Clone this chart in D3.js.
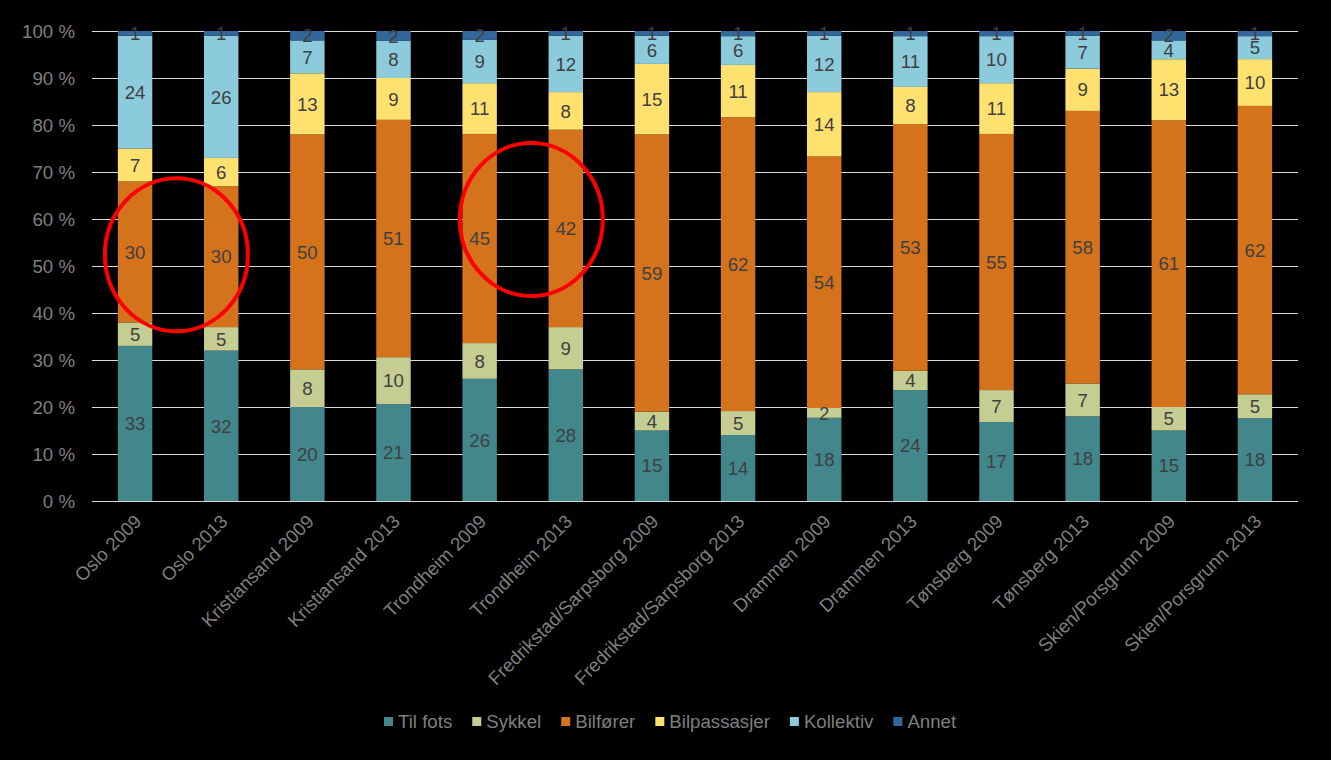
<!DOCTYPE html>
<html><head><meta charset="utf-8">
<script src="https://cdn.jsdelivr.net/npm/d3@7/dist/d3.min.js"></script>
<style>body{margin:0;background:#000}svg{display:block}text{font-family:"Liberation Sans",Arial,sans-serif}</style>
</head><body><svg id="c" width="1331" height="760"></svg>
<script>
const categories = ["Oslo 2009","Oslo 2013","Kristiansand 2009","Kristiansand 2013","Trondheim 2009","Trondheim 2013","Fredrikstad/Sarpsborg 2009","Fredrikstad/Sarpsborg 2013","Drammen 2009","Drammen 2013","Tønsberg 2009","Tønsberg 2013","Skien/Porsgrunn 2009","Skien/Porsgrunn 2013"];
const seriesNames = ["Til fots","Sykkel","Bilfører","Bilpassasjer","Kollektiv","Annet"];
const tilFots     = [33.0,32.0,20.0,20.6,26.0,28.0,15.0,14.0,17.7,23.6,16.8,18.0,15.0,17.7];
const sykkel      = [5.0, 5.0, 8.0, 10.0,7.6, 9.0, 4.0, 5.1, 2.1, 4.1, 6.8, 7.0, 5.0, 5.1];
const bilforer    = [30.0,30.0,50.0,50.5,44.5,42.0,59.0,62.4,53.5,52.5,54.5,58.0,61.0,61.6];
const bilpassasjer= [7.0, 6.0, 13.0,8.9, 10.8,8.0, 15.0,11.1,13.7,7.9, 10.8,9.0, 13.0,10.0];
const kollektiv   = [24.0,26.0,7.0, 7.9, 9.2, 12.0,6.0, 6.1, 12.0,10.8,10.0,7.0, 4.0, 4.9];
const annet       = [1.0, 1.0, 2.0, 2.1, 1.9, 1.0, 1.0, 1.1, 1.0, 1.1, 1.1, 1.0, 2.0, 1.1];
const yTicks = [0,10,20,30,40,50,60,70,80,90,100];
const colors = ["#41878c","#c5cd93","#d4731c","#ffe170","#8ccbdc","#336699"];
// annotation ellipses: center at fractional category index and % value
const ellipseCatPos = [0.48, 4.6];
const ellipseCenterPct = [52.4, 59.9];

const seriesVals = [tilFots,sykkel,bilforer,bilpassasjer,kollektiv,annet];
const rows = categories.map((c,i)=>{const r={cat:c}; seriesNames.forEach((s,j)=>r[s]=seriesVals[j][i]); return r;});
const stacked = d3.stack().keys(seriesNames).offset(d3.stackOffsetExpand)(rows);

const FS = "18.67px";
const svg = d3.select("#c");
const m = {l:92, r:1298, t:31, b:501};
const x = d3.scaleBand().domain(categories).range([m.l,m.r]).paddingInner(0.6).paddingOuter(0.3);
const y = d3.scaleLinear().domain([0,1]).range([m.b,m.t]);
const cxAt = f => x(categories[0]) + x.bandwidth()/2 + f*x.step();

svg.append("rect").attr("width",1331).attr("height",760).attr("fill","#000");

// gridlines
svg.append("g").selectAll("line").data(yTicks).join("line")
  .attr("x1",m.l).attr("x2",m.r).attr("y1",d=>Math.round(y(d/100))+0.5).attr("y2",d=>Math.round(y(d/100))+0.5)
  .attr("stroke","#d9d9d9").attr("stroke-width",1);

// y labels
svg.append("g").selectAll("text").data(yTicks).join("text")
  .attr("x",75).attr("y",d=>y(d/100)).attr("dy","0.35em").attr("text-anchor","end")
  .attr("fill","#7f7f7f").style("font-size",FS).text(d=>d+" %");

// bars
const g = svg.append("g");
stacked.forEach((s,j)=>{
  g.append("g").selectAll("rect").data(s).join("rect")
    .attr("x",d=>x(d.data.cat)).attr("width",x.bandwidth())
    .attr("y",d=>y(d[1])).attr("height",d=>y(d[0])-y(d[1]))
    .attr("fill",colors[j]);
});
stacked.forEach((s,j)=>{
  g.append("g").selectAll("text").data(s).join("text")
    .attr("x",d=>x(d.data.cat)+x.bandwidth()/2).attr("y",d=>(y(d[0])+y(d[1]))/2).attr("dy","0.36em")
    .attr("text-anchor","middle").attr("fill","#404040").style("font-size",FS)
    .text(d=>Math.round(d.data[seriesNames[j]]));
});

// x labels
svg.append("g").selectAll("text").data(categories).join("text")
  .attr("transform",d=>`translate(${x(d)+x.bandwidth()/2+3},${m.b+17}) rotate(-45)`)
  .attr("text-anchor","end").attr("dy","0.35em")
  .attr("fill","#7f7f7f").style("font-size",FS).text(d=>d);

// ellipses
ellipseCatPos.forEach((f,i)=>{
  svg.append("ellipse").attr("cx",cxAt(f)).attr("cy",y(ellipseCenterPct[i]/100))
    .attr("rx",71.5).attr("ry",76.5).attr("fill","none").attr("stroke","#ff0000").attr("stroke-width",4);
});

// legend
const lg = svg.append("g");
const items = lg.selectAll("g").data(seriesNames).join("g");
items.append("rect").attr("width",9).attr("height",9).attr("y",-4).attr("fill",(d,i)=>colors[i]);
items.append("text").attr("x",14).attr("dy","0.35em").attr("fill","#7f7f7f").style("font-size",FS).text(d=>d);
let xoff=0; const widths=[];
items.each(function(){const w=14+this.querySelector("text").getComputedTextLength(); widths.push(w);});
const gap=20;
let start=384;
items.attr("transform",(d,i)=>{const t=`translate(${start+xoff},721)`; xoff+=widths[i]+gap; return t;});
</script></body></html>
